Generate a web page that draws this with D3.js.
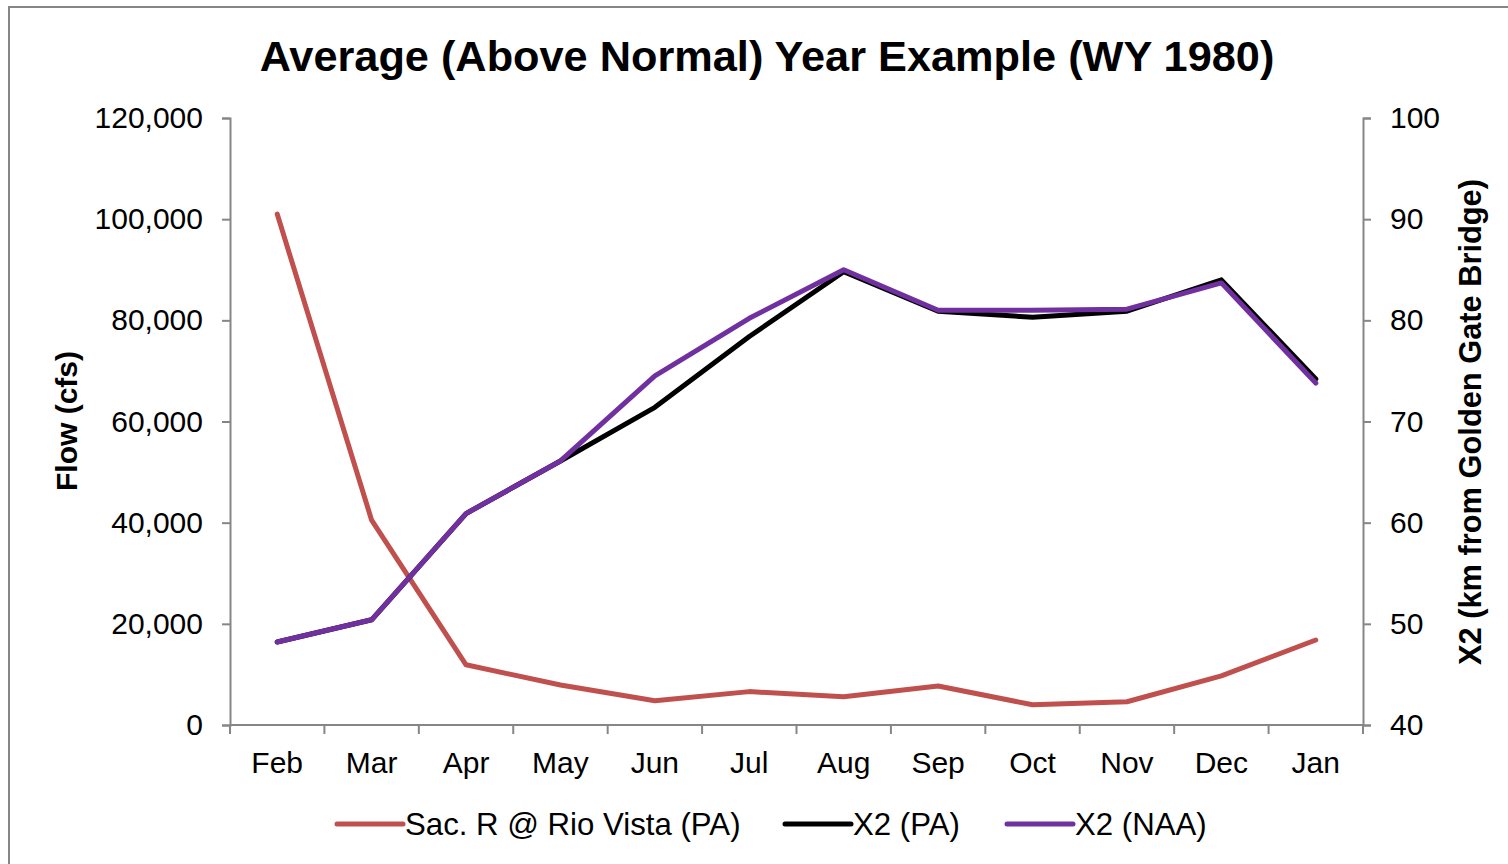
<!DOCTYPE html>
<html>
<head>
<meta charset="utf-8">
<script src="https://cdn.jsdelivr.net/npm/d3@7"></script>
<style>
  body { margin: 0; background: #fff; }
  svg { display: block; font-family: "Liberation Sans", Arial, sans-serif; }
</style>
</head>
<body>
<svg id="chart" width="1508" height="864"></svg>
<script>
// Values
const months = ["Feb", "Mar", "Apr", "May", "Jun", "Jul", "Aug", "Sep", "Oct", "Nov", "Dec", "Jan"]
const flowPA = [101000, 40500, 11900, 7900, 4800, 6600, 5600, 7700, 4000, 4600, 9700, 16800]
const x2PA = [48.2, 50.4, 60.9, 66.1, 71.4, 78.4, 84.8, 80.9, 80.3, 80.9, 84.0, 74.2]
const x2NAA = [48.2, 50.4, 60.9, 66.1, 74.5, 80.2, 85.0, 81.0, 81.0, 81.1, 83.7, 73.8]
const flowTicks = [0, 20000, 40000, 60000, 80000, 100000, 120000]
const x2Ticks = [40, 50, 60, 70, 80, 90, 100]

const series = [
  {name: "Sac. R @ Rio Vista (PA)", values: flowPA, axis: "left", color: "#C0504D"},
  {name: "X2 (PA)", values: x2PA, axis: "right", color: "#000000"},
  {name: "X2 (NAA)", values: x2NAA, axis: "right", color: "#7030A0"}
]

const svg = d3.select("#chart")
const axisColor = "#868686"

// outer frame
svg.append("rect")
  .attr("x", 9).attr("y", 7)
  .attr("width", 1520).attr("height", 880)
  .attr("fill", "#fff")
  .attr("stroke", axisColor).attr("stroke-width", 2)

const plot = {left: 230, right: 1363, top: 118, bottom: 725}

const x = d3.scaleBand().domain(months).range([plot.left, plot.right]).padding(0)
const yL = d3.scaleLinear().domain([0, 120000]).range([plot.bottom, plot.top])
const yR = d3.scaleLinear().domain([40, 100]).range([plot.bottom, plot.top])
const xc = m => x(m) + x.bandwidth() / 2

const styleAxis = g => {
  g.select(".domain").attr("stroke", axisColor).attr("stroke-width", 2)
  g.selectAll(".tick line").attr("stroke", axisColor).attr("stroke-width", 2)
  g.selectAll(".tick text").attr("fill", "#000").style("font-size", "30px")
}

// left axis
svg.append("g")
  .attr("transform", `translate(${plot.left},0)`)
  .call(d3.axisLeft(yL).tickValues(flowTicks).tickFormat(d3.format(",")).tickSizeOuter(0).tickSize(8).tickPadding(19))
  .call(styleAxis)

// right axis
svg.append("g")
  .attr("transform", `translate(${plot.right},0)`)
  .call(d3.axisRight(yR).tickValues(x2Ticks).tickSizeOuter(0).tickSize(8).tickPadding(19))
  .call(styleAxis)

// bottom axis: labels centred in bands, ticks at band edges
const bottom = svg.append("g").attr("transform", `translate(0,${plot.bottom})`)
bottom.append("line")
  .attr("x1", plot.left).attr("x2", plot.right)
  .attr("stroke", axisColor).attr("stroke-width", 2)
const edges = months.map(m => x(m)).concat([plot.right])
bottom.selectAll("line.edge").data(edges).join("line")
  .attr("class", "edge")
  .attr("x1", d => d).attr("x2", d => d)
  .attr("y1", 0).attr("y2", 9)
  .attr("stroke", axisColor).attr("stroke-width", 2)
bottom.selectAll("text").data(months).join("text")
  .attr("x", xc).attr("y", 48)
  .attr("text-anchor", "middle")
  .style("font-size", "30px")
  .text(d => d)

// lines
for (const s of series) {
  const yScale = s.axis === "left" ? yL : yR
  const line = d3.line()
    .x((d, i) => xc(months[i]))
    .y(d => yScale(d))
  svg.append("path")
    .datum(s.values)
    .attr("d", line)
    .attr("fill", "none")
    .attr("stroke", s.color)
    .attr("stroke-width", 5)
    .attr("stroke-linejoin", "round")
    .attr("stroke-linecap", "round")
}

// title
svg.append("text")
  .attr("x", 767).attr("y", 71)
  .attr("text-anchor", "middle")
  .style("font-size", "43.3px").style("font-weight", "bold")
  .text("Average (Above Normal) Year Example (WY 1980)")

// axis titles
svg.append("text")
  .attr("transform", "translate(77,421) rotate(-90)")
  .attr("text-anchor", "middle")
  .style("font-size", "30px").style("font-weight", "bold")
  .text("Flow (cfs)")
svg.append("text")
  .attr("transform", "translate(1481,422) rotate(-90)")
  .attr("text-anchor", "middle")
  .style("font-size", "30.8px").style("font-weight", "bold")
  .text("X2 (km from Golden Gate Bridge)")

// legend
const legendX = [337, 785, 1007]
const legend = svg.append("g")
series.forEach((s, i) => {
  const g = legend.append("g").attr("transform", `translate(${legendX[i]},824)`)
  g.append("line")
    .attr("x1", 0).attr("x2", 66)
    .attr("stroke", s.color).attr("stroke-width", 5)
    .attr("stroke-linecap", "round")
  g.append("text")
    .attr("x", 68).attr("y", 11)
    .style("font-size", "31.2px")
    .text(s.name)
})
</script>
</body>
</html>
